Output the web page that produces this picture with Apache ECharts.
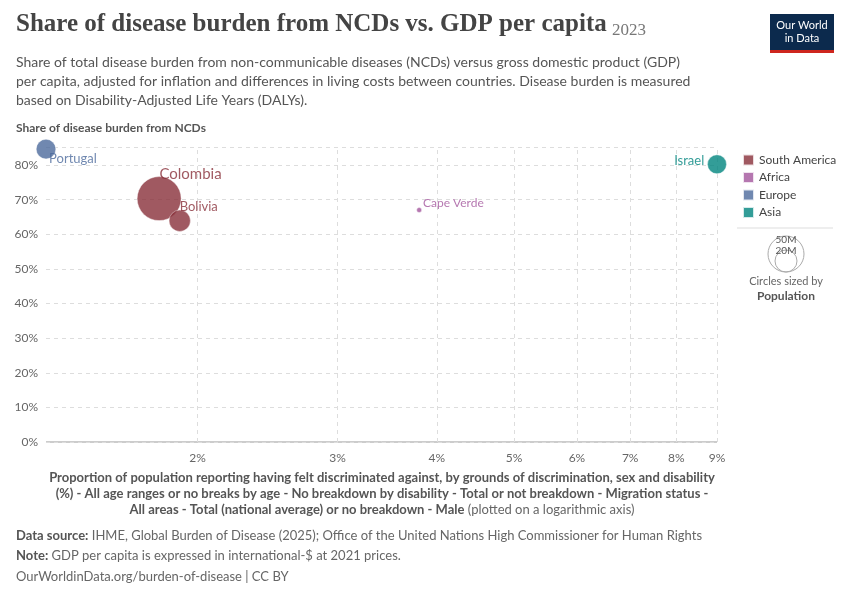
<!DOCTYPE html>
<html><head><meta charset="utf-8">
<script src="https://cdn.jsdelivr.net/npm/echarts@6/dist/echarts.min.js"></script>
<style>body{margin:0}#c{width:850px;height:600px}</style></head>
<body><div id="c"></div>
<script>
const regions = ['South America','Africa','Europe','Asia'];
const regionColors = ['#883039','#a2559c','#4c6a9c','#00847e'];
const countries = ['Colombia','Bolivia','Cape Verde','Portugal','Israel'];
const countryRegion = ['South America','South America','Africa','Europe','Asia'];
const xValues = [1.79, 1.90, 3.80, 1.29, 9.0];
const yValues = [70.3, 63.9, 67.0, 84.6, 80.2];
const population = [52, 12.2, 0.52, 10.4, 9.7];
const xTicks = [2,3,4,5,6,7,8,9];
const yTicks = [0,10,20,30,40,50,60,70,80];

const labelPos = {'Colombia':['right',[-27,-24],15],'Bolivia':['right',[-16,-14],13],'Cape Verde':['right',[-4,-7],12],'Portugal':['right',[-12,10],13],'Israel':['left',[2,-4],13]};
const F = 'Lato, "Noto Sans", sans-serif';
const series = regions.map((r,ri)=>({
  name:r, type:'scatter', z:5,
  itemStyle:{color:regionColors[ri], opacity:0.8, borderColor:'#fff', borderWidth:0.5},
  data: countries.map((c,i)=>countryRegion[i]===r?{name:c,value:[xValues[i],yValues[i],population[i]],
    label:{show:true,position:labelPos[c][0],offset:labelPos[c][1],fontSize:labelPos[c][2],formatter:c,color:regionColors[ri],fontFamily:F}}:null).filter(Boolean),
  symbolSize: v=>Math.max(5, Math.sqrt(v[2])*6.1)
}));
series.push({type:'scatter',data:[],silent:true,z:1,
  markLine:{silent:true,symbol:'none',z:1,lineStyle:{color:'#ddd',type:[4,4],width:1},
    label:{show:true,position:'start',distance:10,color:'#666',fontSize:12,fontFamily:F,formatter:p=>p.value+'%'},
    data:xTicks.map(t=>({xAxis:t}))}});

const chart = echarts.init(document.getElementById('c'));
chart.setOption({
  animation:false,
  legend:{data:regions,orient:'vertical',left:737,top:148,itemWidth:11,itemHeight:11,itemGap:3.5,icon:'rect',
    textStyle:{color:'#444',fontSize:12,fontFamily:F,lineHeight:14},selectedMode:false},
  grid:{left:46,right:133,top:147.7,bottom:158},
  xAxis:{type:'log',logBase:10,min:1.29,max:9,axisLine:{show:false},axisTick:{show:false},axisLabel:{show:false},splitLine:{show:false},minorSplitLine:{show:false}},
  yAxis:{type:'value',min:0,max:85,interval:10,axisLine:{show:false},axisTick:{show:false},
    axisLabel:{color:'#666',fontSize:12,fontFamily:F,formatter:v=>yTicks.includes(v)?v+'%':''},
    splitLine:{lineStyle:{color:'#ddd',type:[4,4]}}},
  series:series,
  graphic:[
    {type:'line',shape:{x1:46,y1:442,x2:717,y2:442},style:{stroke:'#999',lineWidth:1}},
    {type:'text',x:16,y:12,style:{text:'Share of disease burden from NCDs vs. GDP per capita',font:'bold 25px "Liberation Serif", serif',fill:'#444'}},
    {type:'text',x:612,y:22,style:{text:'2023',font:'17px "Liberation Serif", serif',fill:'#777'}},
    {type:'rect',x:770,y:14,shape:{width:64,height:38},style:{fill:'#0c2a4d'}},
    {type:'rect',x:770,y:50,shape:{width:64,height:3},style:{fill:'#ce261e'}},
    {type:'text',x:802,y:19,style:{text:'Our World\nin Data',font:'11px '+F,fill:'#fff',align:'center',lineHeight:13}},
    {type:'text',x:16,y:53,style:{text:'Share of total disease burden from non-communicable diseases (NCDs) versus gross domestic product (GDP)\nper capita, adjusted for inflation and differences in living costs between countries. Disease burden is measured\nbased on Disability-Adjusted Life Years (DALYs).',font:'14px '+F,fill:'#555',lineHeight:19}},
    {type:'text',x:16,y:122,style:{text:'Share of disease burden from NCDs',font:'bold 12px '+F,fill:'#555'}},
    {type:'text',x:382,y:470,style:{align:'center',lineHeight:16,
      rich:{b:{font:'bold 13px '+F,fill:'#555',lineHeight:16},n:{font:'13px '+F,fill:'#666',lineHeight:16}},
      text:'{b|Proportion of population reporting having felt discriminated against, by grounds of discrimination, sex and disability}\n{b|(%) - All age ranges or no breaks by age - No breakdown by disability - Total or not breakdown - Migration status -}\n{b|All areas - Total (national average) or no breakdown - Male} {n|(plotted on a logarithmic axis)}'}},
    {type:'line',shape:{x1:737,y1:228,x2:833,y2:228},style:{stroke:'#ddd'}},
    {type:'circle',shape:{cx:786,cy:254,r:18},style:{fill:'none',stroke:'#aaa',lineWidth:1}},
    {type:'circle',shape:{cx:786,cy:261,r:11},style:{fill:'none',stroke:'#aaa',lineWidth:1}},
    {type:'text',x:786,y:235,style:{text:'50M',font:'10px '+F,fill:'#555',align:'center'}},
    {type:'text',x:786,y:246,style:{text:'20M',font:'10px '+F,fill:'#555',align:'center'}},
    {type:'text',x:786,y:276,style:{text:'Circles sized by',font:'11px '+F,fill:'#666',align:'center'}},
    {type:'text',x:786,y:290,style:{text:'Population',font:'bold 12px '+F,fill:'#555',align:'center'}},
    {type:'text',x:16,y:529,style:{rich:{b:{font:'bold 13px '+F,fill:'#555'},n:{font:'13px '+F,fill:'#666'}},text:'{b|Data source:} {n|IHME, Global Burden of Disease (2025); Office of the United Nations High Commissioner for Human Rights}'}},
    {type:'text',x:16,y:549,style:{rich:{b:{font:'bold 13px '+F,fill:'#555'},n:{font:'13px '+F,fill:'#666'}},text:'{b|Note:} {n|GDP per capita is expressed in international-$ at 2021 prices.}'}},
    {type:'text',x:16,y:570,style:{text:'OurWorldinData.org/burden-of-disease | CC BY',font:'13px '+F,fill:'#666'}}
  ]
});
</script></body></html>
